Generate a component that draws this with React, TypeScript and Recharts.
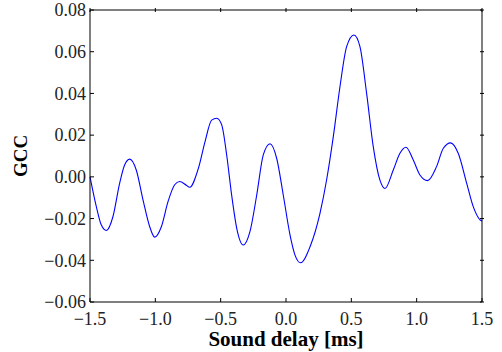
import { LineChart, Line, XAxis, YAxis } from 'recharts'

// sound delay in ms
const delays = [
  -1.5, -1.452, -1.414, -1.375, -1.324, -1.273, -1.235, -1.196, -1.146, -1.094,
  -1.043, -1.005, -0.954, -0.903, -0.852, -0.814, -0.763, -0.737, -0.671, -0.62,
  -0.569, -0.53, -0.492, -0.454, -0.416, -0.377, -0.327, -0.276, -0.224, -0.174,
  -0.122, -0.071, -0.021, 0.031, 0.069, 0.112, 0.184, 0.26, 0.311, 0.362,
  0.413, 0.464, 0.52, 0.566, 0.617, 0.668, 0.719, 0.758, 0.821, 0.872,
  0.918, 0.974, 1.025, 1.084, 1.152, 1.204, 1.26, 1.318, 1.383, 1.433,
  1.485, 1.5,
]

// generalized cross correlation
const gcc = [
  0.0, -0.0142, -0.023, -0.0257, -0.019, -0.003, 0.0057, 0.0085, 0.0033, -0.0111,
  -0.0239, -0.0289, -0.0239, -0.0119, -0.0038, -0.0022, -0.004, -0.005, 0.004, 0.0168,
  0.0272, 0.0281, 0.0249, 0.0105, -0.0087, -0.0247, -0.0327, -0.0263, -0.0087, 0.0105,
  0.0159, 0.0088, -0.0087, -0.0279, -0.0375, -0.0412, -0.0335, -0.0175, -0.0014, 0.0193,
  0.0432, 0.0624, 0.068, 0.0624, 0.04, 0.0144, -0.0016, -0.0056, 0.0033, 0.0113,
  0.0142, 0.0081, 0.0009, -0.0018, 0.0049, 0.0137, 0.0163, 0.0113, -0.0031, -0.0143,
  -0.0206, -0.0212,
]

const xTicks = [-1.5, -1.0, -0.5, 0.0, 0.5, 1.0, 1.5]
const yTicks = [-0.06, -0.04, -0.02, 0.0, 0.02, 0.04, 0.06, 0.08]

const data = delays.map((d, i) => ({ delay: d, gcc: gcc[i] }))

const font = '"Liberation Serif", "DejaVu Serif", serif'
const minus = (s: string) => s.replace('-', '\u2212')
const GAP = 4 // space between axis line and tick text
const TICK = 4 // inward tick length

// ticks point into the plot, matplotlib style
const LeftTick = (p: any) => (
  <g>
    <line x1={p.x + GAP} x2={p.x + GAP + TICK} y1={p.y} y2={p.y} stroke="#000" />
    <text x={p.x} y={p.y} dy="0.35em" textAnchor="end" fontSize={18} fontFamily={font} fill="#222">
      {minus(p.payload.value.toFixed(2))}
    </text>
  </g>
)

const BottomTick = (p: any) => (
  <g>
    <line x1={p.x} x2={p.x} y1={p.y - GAP - 5} y2={p.y - GAP - 5 - TICK} stroke="#000" />
    <text x={p.x} y={p.y} dy="0.75em" textAnchor="middle" fontSize={18} fontFamily={font} fill="#222">
      {minus(p.payload.value.toFixed(1))}
    </text>
  </g>
)

const TopTick = (p: any) => (
  <line x1={p.x} x2={p.x} y1={p.y} y2={p.y + TICK} stroke="#000" />
)

const RightTick = (p: any) => (
  <line x1={p.x} x2={p.x - TICK} y1={p.y} y2={p.y} stroke="#000" />
)

export default function App() {
  return (
    <div style={{ position: 'absolute', left: 0, top: 0, background: '#fff' }}>
      <LineChart
        width={502}
        height={352}
        data={data}
        margin={{ top: 9, right: 19, left: 0, bottom: 0 }}
      >
        <XAxis
          dataKey="delay"
          type="number"
          domain={[-1.5, 1.5]}
          ticks={xTicks}
          height={50}
          tickSize={0}
          tickLine={false}
          tickMargin={GAP + 5}
          tick={BottomTick}
          stroke="#000"
          label={{
            value: 'Sound delay [ms]',
            position: 'insideBottom',
            offset: 6,
            style: { fontFamily: font, fontSize: 21, fontWeight: 'bold', fill: '#000' },
          }}
        />
        <XAxis
          xAxisId="top"
          dataKey="delay"
          orientation="top"
          type="number"
          domain={[-1.5, 1.5]}
          ticks={xTicks}
          height={1}
          tickSize={0}
          tickLine={false}
          tick={TopTick}
          stroke="#000"
        />
        <YAxis
          type="number"
          domain={[-0.06, 0.08]}
          ticks={yTicks}
          width={90}
          tickSize={0}
          tickLine={false}
          tickMargin={GAP}
          tick={LeftTick}
          stroke="#000"
          label={{
            value: 'GCC',
            angle: -90,
            position: 'insideLeft',
            offset: 20,
            style: { textAnchor: 'middle', fontFamily: font, fontSize: 19, fontWeight: 'bold', fill: '#000' },
          }}
        />
        <YAxis
          yAxisId="right"
          orientation="right"
          type="number"
          domain={[-0.06, 0.08]}
          ticks={yTicks}
          width={1}
          tickSize={0}
          tickLine={false}
          tick={RightTick}
          stroke="#000"
        />
        <Line
          type="monotone"
          dataKey="gcc"
          stroke="#0000ff"
          strokeWidth={1.1}
          dot={false}
          isAnimationActive={false}
        />
        {/* invisible series so the frame axes get a domain */}
        <Line
          xAxisId="top"
          yAxisId="right"
          dataKey="gcc"
          stroke="none"
          dot={false}
          activeDot={false}
          legendType="none"
          isAnimationActive={false}
        />
      </LineChart>
    </div>
  )
}
